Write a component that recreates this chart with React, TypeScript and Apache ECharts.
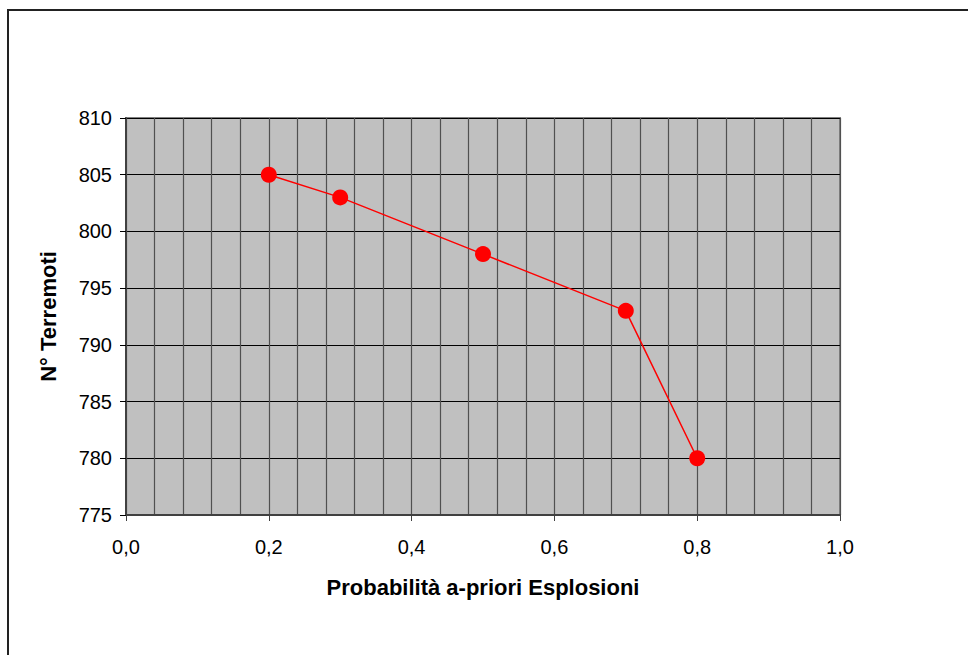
import React, { useEffect, useRef } from "react";
import * as echarts from "echarts";

// Prior probability of explosions vs. number of earthquakes classified
const probabilities = [0.2, 0.3, 0.5, 0.7, 0.8];
const earthquakes = [805, 803, 798, 793, 780];

const xName = "Probabilità a-priori Esplosioni";
const yName = "N° Terremoti";

const FONT = "'Liberation Sans', Arial, sans-serif";

export default function App() {
  const ref = useRef<HTMLDivElement>(null);

  useEffect(() => {
    if (!ref.current) return;
    const chart = echarts.init(ref.current, undefined, { renderer: "svg" });
    chart.setOption({
      animation: false,
      backgroundColor: "#ffffff",
      graphic: [
        {
          type: "polyline",
          shape: { points: [[8, 700], [8, 10], [980, 10]] },
          style: { stroke: "#222", lineWidth: 2, fill: "none" },
          z: 100,
        },
      ],
      grid: {
        left: 126,
        right: 128,
        top: 118,
        bottom: 140,
        show: true,
        backgroundColor: "#c0c0c0",
        borderColor: "#808080",
        borderWidth: 2,
      },
      xAxis: {
        type: "value",
        min: 0,
        max: 1,
        interval: 0.2,
        name: xName,
        nameLocation: "middle",
        nameGap: 61,
        nameTextStyle: { fontFamily: FONT, fontSize: 22, fontWeight: "bold", color: "#000" },
        axisLine: { show: true, lineStyle: { color: "#404040", width: 2 } },
        axisTick: { show: true, length: 6, lineStyle: { color: "#404040", width: 1 } },
        axisLabel: {
          fontFamily: FONT,
          fontSize: 20,
          color: "#000",
          margin: 22,
          formatter: (v: number) => v.toFixed(1).replace(".", ","),
        },
        splitLine: { show: true, lineStyle: { color: "#505050", width: 1.2 } },
        minorTick: { show: false, splitNumber: 5 },
        minorSplitLine: { show: true, lineStyle: { color: "#505050", width: 1.2 } },
      },
      yAxis: {
        type: "value",
        min: 775,
        max: 810,
        interval: 5,
        name: yName,
        nameLocation: "middle",
        nameGap: 67,
        nameTextStyle: { fontFamily: FONT, fontSize: 22, fontWeight: "bold", color: "#000" },
        axisLine: { show: true, lineStyle: { color: "#404040", width: 2 } },
        axisTick: { show: true, length: 6, lineStyle: { color: "#000", width: 1 } },
        axisLabel: { fontFamily: FONT, fontSize: 20, color: "#000", margin: 14 },
        splitLine: { show: true, lineStyle: { color: "#000", width: 1 } },
      },
      series: [
        {
          type: "line",
          data: probabilities.map((p, i) => [p, earthquakes[i]]),
          symbol: "circle",
          symbolSize: 16,
          itemStyle: { color: "#ff0000" },
          lineStyle: { color: "#ff0000", width: 1.5 },
          z: 5,
        },
      ],
    });
    return () => chart.dispose();
  }, []);

  return (
    <div
      ref={ref}
      style={{ position: "fixed", left: 0, top: 0, width: 968, height: 655 }}
    />
  );
}
